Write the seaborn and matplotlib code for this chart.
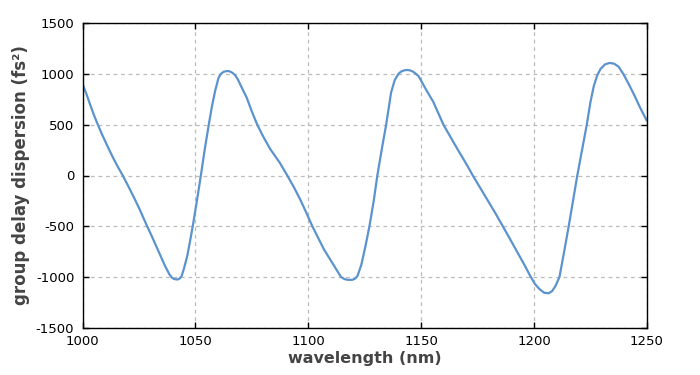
import matplotlib
matplotlib.use("Agg")
import matplotlib.pyplot as plt
import seaborn as sns
import pandas as pd

wavelength_nm = [
    1000, 1001.5, 1003, 1004.7, 1006.4, 1008.5, 1011, 1013.5, 1015.5, 1017.8,
    1020, 1022.5, 1025, 1027, 1028.6, 1030.5, 1032.5, 1034.5, 1036.5, 1038.5,
    1039.5, 1040.5, 1042, 1043, 1043.9, 1045, 1046.4, 1047.5, 1048.8, 1050.5,
    1052.4, 1054, 1055.9, 1057.3, 1058.8, 1060.2, 1061.2, 1062.5, 1064.2, 1065.4,
    1066.5, 1067.6, 1068.7, 1069.8, 1071.2, 1072.7, 1075, 1077.4, 1080, 1083,
    1085.5, 1087.5, 1090.7, 1093.5, 1096.4, 1099, 1101.8, 1104.5, 1107, 1109.5,
    1112, 1114.5, 1116, 1117.5, 1119.5, 1120.8, 1121.8, 1123.5, 1125.3, 1127.1,
    1129, 1130.6, 1132.5, 1134.5, 1136.7, 1138.3, 1139.9, 1141, 1142.3, 1143.8,
    1145.2, 1146.6, 1148.8, 1149.8, 1152.5, 1155.4, 1159.9, 1163, 1166.5, 1170,
    1172.9, 1176, 1179.5, 1183, 1186.2, 1189.5, 1193, 1196, 1198.6, 1200.5,
    1202.5, 1204.5, 1206.5, 1208, 1209.5, 1211.3, 1213.3, 1215.4, 1217.3, 1219.2,
    1221.3, 1223.4, 1225, 1226.5, 1228, 1229.5, 1231.5, 1233.5, 1235.5, 1237.5,
    1239.6, 1242, 1244.5, 1247, 1250,
]
gdd_fs2 = [
    900, 815, 720, 615, 520, 410, 290, 175, 90, 0,
    -95, -205, -320, -420, -500, -590, -690, -790, -890, -975,
    -1005, -1020, -1025, -1015, -990, -910, -790, -660, -500, -270,
    0, 240, 500, 680, 840, 960, 1000, 1022, 1030, 1024,
    1010, 988, 950, 900, 835, 768, 630, 500, 385, 265,
    185, 121, 0, -110, -235, -360, -500, -620, -730, -820,
    -910, -1000, -1020, -1028, -1028, -1015, -990, -880, -700, -500,
    -250, 0, 250, 500, 818, 940, 1000, 1022, 1035, 1040,
    1035, 1021, 981, 942, 834, 725, 500, 380, 245, 115,
    0, -115, -245, -375, -500, -630, -770, -890, -1000, -1071,
    -1120, -1155, -1160, -1140, -1090, -1000, -760, -500, -250, 0,
    250, 500, 720, 880, 985, 1050, 1095, 1109, 1102, 1072,
    1000, 900, 790, 670, 540,
]
x_ticks = [1000, 1050, 1100, 1150, 1200, 1250]
y_ticks = [-1500, -1000, -500, 0, 500, 1000, 1500]

sns.set_theme(style="white")
plt.rcParams["font.family"] = ["DejaVu Sans"]

df = pd.DataFrame({"wavelength": wavelength_nm, "gdd": gdd_fs2})

fig = plt.figure(figsize=(7, 3.75), dpi=100)
ax = fig.add_axes([0.118, 0.126, 0.806, 0.812])

sns.lineplot(data=df, x="wavelength", y="gdd", ax=ax, color="#5b93cf",
             linewidth=1.6, sort=False)

ax.set_xlim(1000, 1250)
ax.set_ylim(-1500, 1500)
ax.set_xticks(x_ticks)
ax.set_yticks(y_ticks)
ax.set_xticklabels([str(v) for v in x_ticks], fontsize=9.5, color="black")
ax.set_yticklabels([str(v) for v in y_ticks], fontsize=9.5, color="black")
ax.tick_params(direction="in", length=4, width=1, color="black",
               top=True, right=True, bottom=True, left=True)
ax.tick_params(axis="x", pad=5.5)
ax.tick_params(axis="y", pad=6)
ax.grid(True, color="#bbbbbb", linestyle=(0, (3, 3)), linewidth=0.9)
for s in ax.spines.values():
    s.set_color("black")
    s.set_linewidth(1.0)

ax.set_xlabel("wavelength (nm)", fontsize=11.5, fontweight="bold", color="#444444", labelpad=2)
ax.set_ylabel("group delay dispersion (fs²)", fontsize=12, fontweight="bold", color="#444444", labelpad=4)

fig.savefig("out.png", dpi=100)
